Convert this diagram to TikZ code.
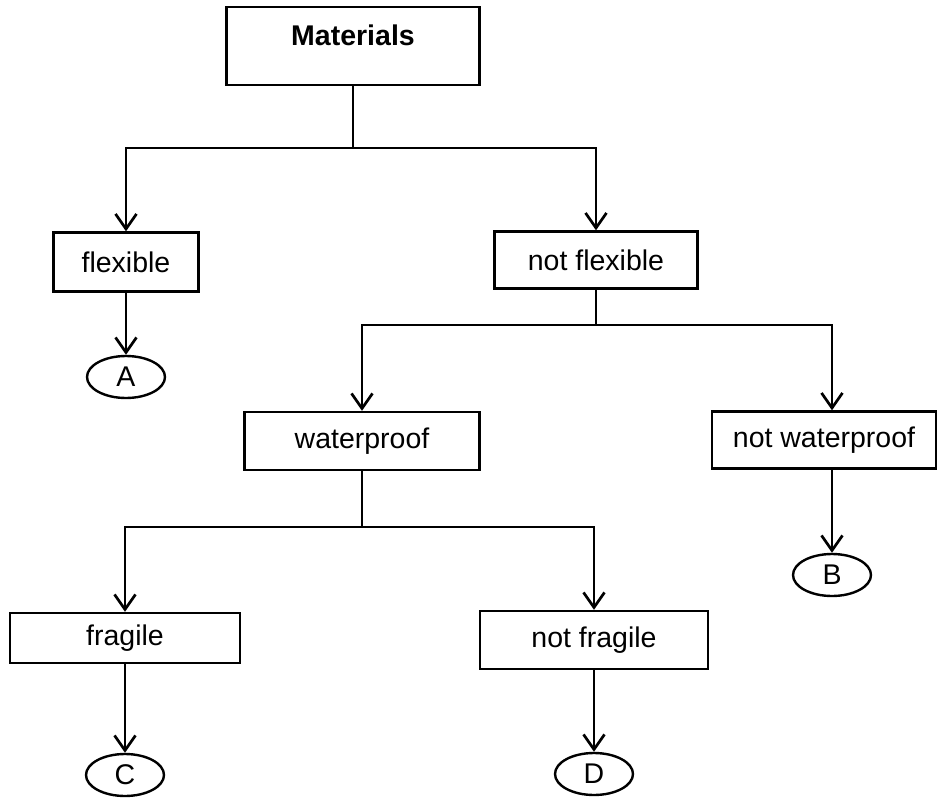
\documentclass[tikz,border=0pt]{standalone}
\usepackage{fontspec}
\setmainfont{Liberation Sans}
\usetikzlibrary{arrows.meta,shapes.geometric}

\begin{document}
\begin{tikzpicture}[x=1pt,y=-1pt,
  every node/.style={font=\fontsize{28.5}{34}\selectfont},
  box/.style={draw, line width=2.4pt, rectangle, inner sep=0pt},
  leaf/.style={draw, line width=2.4pt, ellipse, inner sep=0pt,
               minimum width=78pt, minimum height=42pt},
  link/.style={line width=2.7pt},
  arr/.style={line width=2.7pt, -{Straight Barb[length=15pt,width=21pt]}}
]
\useasboundingbox (0,0) rectangle (938,798);

% boxes
\node[box, minimum width=253pt, minimum height=78pt] (mat) at (353,46) {};
\node[font=\fontsize{28.5}{34}\selectfont\bfseries] (mattxt) at (353,35) {Materials};
\node[box, minimum width=145pt, minimum height=59pt] (flex) at (126,262) {flexible};
\node[box, minimum width=203pt, minimum height=57pt] (nflex) at (596,260) {not flexible};
\node[box, minimum width=235pt, minimum height=58pt] (wp) at (362,441) {waterproof};
\node[box, minimum width=224pt, minimum height=57pt] (nwp) at (824,440) {not waterproof};
\node[box, minimum width=230pt, minimum height=50pt] (frag) at (125,638) {fragile};
\node[box, minimum width=228pt, minimum height=58pt] (nfrag) at (594,640) {not fragile};

% end points
\node[leaf] (A) at (126,377) {A};
\node[leaf] (B) at (832,575) {B};
\node[leaf] (C) at (125,775) {C};
\node[leaf] (D) at (594,774) {D};

% branch points
\coordinate (j1) at (353,148);
\coordinate (j2) at (596,325);
\coordinate (j3) at (362,527);

% connectors
\draw[link] (mat) -- (j1);
\draw[arr] (j1) -| (flex);
\draw[arr] (j1) -| (nflex);
\draw[arr] (flex) -- (A);

\draw[link] (nflex) -- (j2);
\draw[arr] (j2) -| ([xshift=8pt]nwp.north);
\draw[arr] (j2) -| (wp);
\draw[arr] ([xshift=8pt]nwp.south) -- (B.north);

\draw[link] (wp) -- (j3);
\draw[arr] (j3) -| (frag);
\draw[arr] (j3) -| (nfrag);
\draw[arr] (frag) -- (C);
\draw[arr] (nfrag) -- (D);
\end{tikzpicture}
\end{document}
